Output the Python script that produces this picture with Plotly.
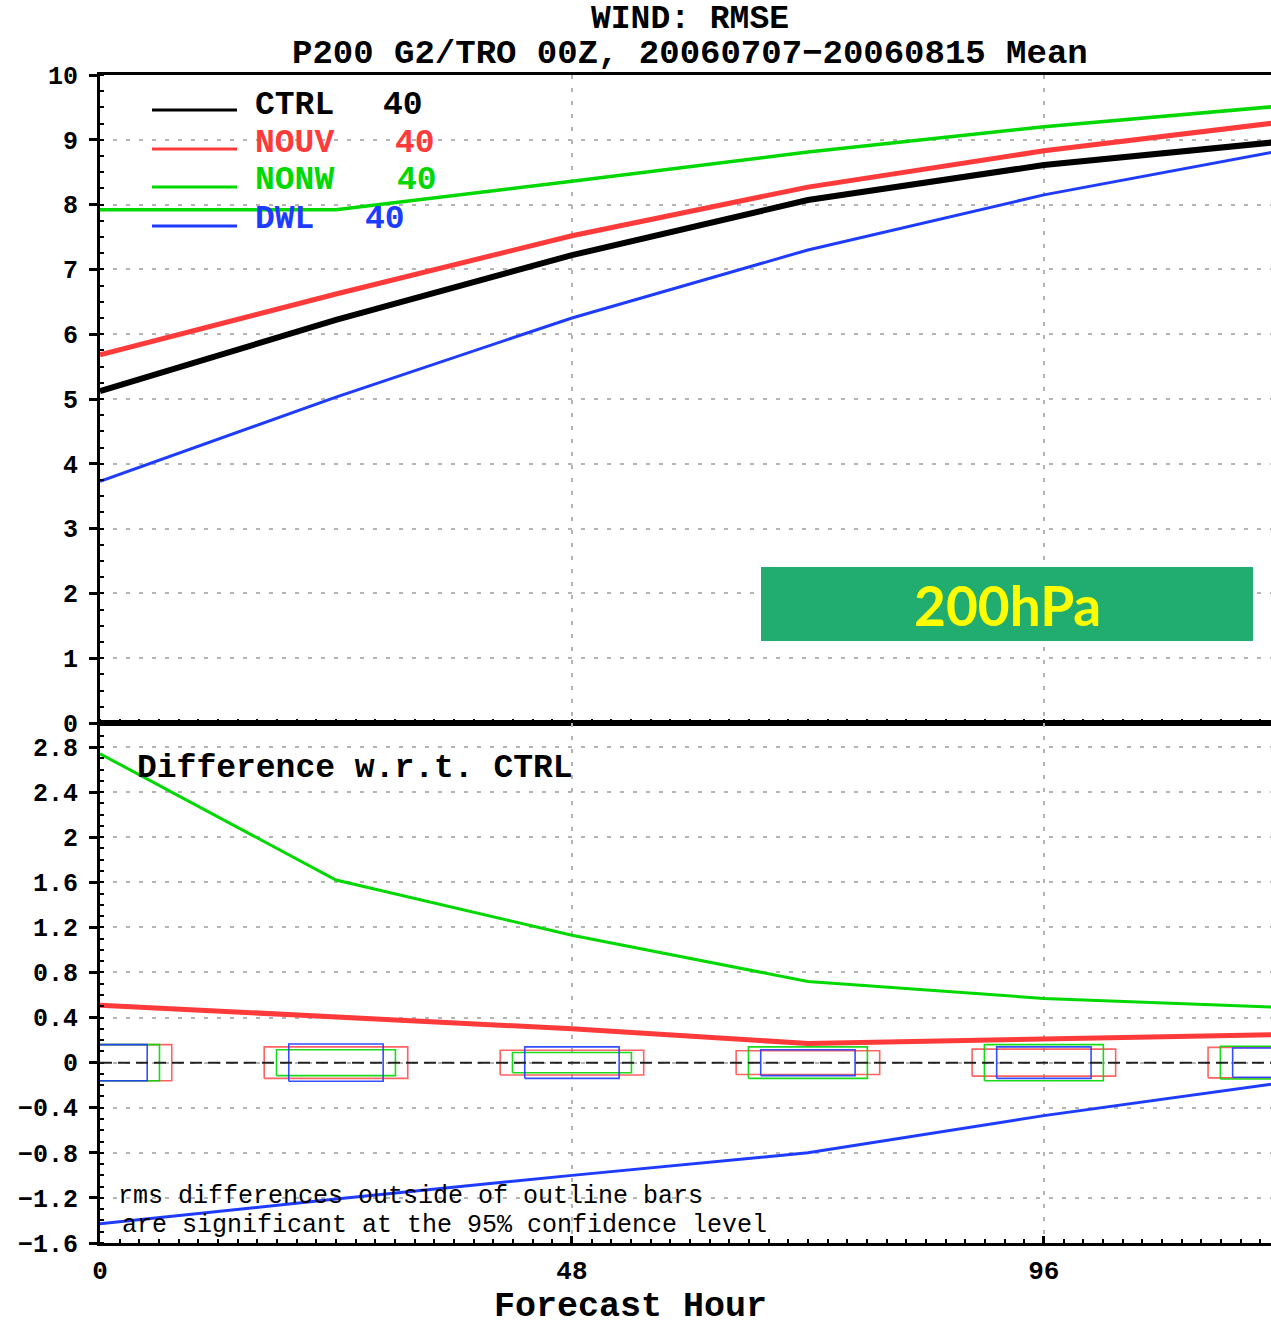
import plotly.graph_objects as go

# ---------------- data ----------------
hours = [0, 24, 48, 72, 96, 120]
series_names = ["CTRL", "NOUV", "NONW", "DWL"]
counts = [40, 40, 40, 40]

rmse_ctrl = [5.12, 6.22, 7.22, 8.07, 8.61, 8.97]
rmse_nouv = [5.68, 6.62, 7.52, 8.27, 8.83, 9.27]
rmse_nonw = [7.92, 7.92, 8.36, 8.81, 9.20, 9.52]
rmse_dwl = [3.73, 5.03, 6.25, 7.30, 8.15, 8.83]

diff_nouv = [0.51, 0.41, 0.30, 0.17, 0.21, 0.25]
diff_nonw = [2.74, 1.62, 1.13, 0.72, 0.57, 0.49]
diff_dwl = [-1.43, -1.21, -1.00, -0.80, -0.47, -0.18]

# confidence half-heights of outline bars
conf_nouv = [0.16, 0.14, 0.11, 0.105, 0.12, 0.135]
conf_nonw = [0.16, 0.115, 0.09, 0.14, 0.16, 0.145]
conf_dwl = [0.16, 0.165, 0.14, 0.115, 0.14, 0.13]

top_ticks = [0, 1, 2, 3, 4, 5, 6, 7, 8, 9, 10]
bot_ticks = [-1.6, -1.2, -0.8, -0.4, 0, 0.4, 0.8, 1.2, 1.6, 2.0, 2.4, 2.8]
bot_labels = ["\u22121.6", "\u22121.2", "\u22120.8", "\u22120.4", "0", "0.4", "0.8", "1.2", "1.6", "2", "2.4", "2.8"]
x_ticks = [0, 48, 96]

# ---------------- style ----------------
C_BLACK = "#000000"
C_RED = "#ff3a3a"
C_GREEN = "#00d800"
C_BLUE = "#1e3cff"
colors = [C_BLACK, C_RED, C_GREEN, C_BLUE]
widths_top = [6, 5, 3.5, 3]
box_halfwidth = {"NOUV": 7.3, "NONW": 6.05, "DWL": 4.8}
box_colors = {"NOUV": "rgba(255,70,70,0.85)", "NONW": "rgba(0,215,0,0.9)", "DWL": "rgba(30,60,255,0.9)"}

FONT = "Liberation Mono"
W, H = 1271, 1329
ML, MR, MT, MB = 100, 0, 75, 86
split_px = 723


def px(x):
    return (x - ML) / (W - ML - MR)


def py(y):
    return (H - MB - y) / (H - MT - MB)


split = py(split_px)

fig = go.Figure()

# ---------------- top panel ----------------
top_series = [rmse_ctrl, rmse_nouv, rmse_nonw, rmse_dwl]
for name, vals, col, lw in zip(series_names, top_series, colors, widths_top):
    fig.add_trace(go.Scatter(x=hours, y=vals, mode="lines", name=name,
                             line=dict(color=col, width=lw),
                             xaxis="x", yaxis="y", showlegend=False))

# ---------------- bottom panel ----------------
diffs = {"NOUV": diff_nouv, "NONW": diff_nonw, "DWL": diff_dwl}
confs = {"NOUV": conf_nouv, "NONW": conf_nonw, "DWL": conf_dwl}
diff_colors = {"NOUV": C_RED, "NONW": C_GREEN, "DWL": C_BLUE}
diff_widths = {"NOUV": 5, "NONW": 3, "DWL": 3}

for name in ["NOUV", "NONW", "DWL"]:
    bx, by = [], []
    hw = box_halfwidth[name]
    for h, c in zip(hours, confs[name]):
        bx += [h - hw, h + hw, h + hw, h - hw, h - hw, None]
        by += [-c, -c, c, c, -c, None]
    fig.add_trace(go.Scatter(x=bx, y=by, mode="lines",
                             line=dict(color=box_colors[name], width=1.6),
                             xaxis="x2", yaxis="y2", showlegend=False,
                             hoverinfo="skip"))

for name in ["NONW", "NOUV", "DWL"]:
    fig.add_trace(go.Scatter(x=hours, y=diffs[name], mode="lines",
                             line=dict(color=diff_colors[name], width=diff_widths[name]),
                             xaxis="x2", yaxis="y2", showlegend=False))

# zero reference line
fig.add_shape(type="line", xref="x2 domain", yref="y2", x0=0, x1=1, y0=0, y1=0,
              line=dict(color="#222222", width=2, dash="12px,6px"), layer="above")

grid_common = dict(gridcolor="#b4b4b4", gridwidth=2, griddash="4px,9px")
tickfont = dict(family=FONT, size=25, color="black", weight="bold")

fig.update_layout(
    width=W, height=H,
    margin=dict(l=ML, r=MR, t=MT, b=MB, pad=0),
    paper_bgcolor="white", plot_bgcolor="white",
    showlegend=False,
    xaxis=dict(domain=[0, 1], anchor="y", range=[0, 119.1], tickvals=x_ticks,
               showticklabels=False, showgrid=True, **grid_common,
               showline=True, linecolor="black", linewidth=3, mirror=True,
               ticks="", zeroline=False,
               minor=dict(ticks="inside", dtick=2, ticklen=4, tickwidth=2, tickcolor="black", showgrid=False)),
    yaxis=dict(domain=[split, 1], anchor="x", range=[0, 10], tickvals=top_ticks,
               showgrid=True, **grid_common, zeroline=False,
               showline=True, linecolor="black", linewidth=3,
               ticks="outside", ticklen=8, tickwidth=3, tickcolor="black",
               tickfont=tickfont, ticklabelstandoff=6,
               minor=dict(ticks="inside", dtick=0.25, ticklen=4, tickwidth=2, tickcolor="black", showgrid=False)),
    xaxis2=dict(domain=[0, 1], anchor="y2", range=[0, 119.1], tickvals=x_ticks,
                ticktext=[str(v) for v in x_ticks], tickfont=dict(family=FONT, size=26, color="black", weight="bold"),
                showgrid=True, **grid_common, zeroline=False,
                showline=True, linecolor="black", linewidth=3, mirror=True,
                ticks="inside", ticklen=7, tickwidth=3, tickcolor="black",
                ticklabelstandoff=2,
                minor=dict(ticks="inside", dtick=2, ticklen=4, tickwidth=2, tickcolor="black", showgrid=False)),
    yaxis2=dict(domain=[0, split], anchor="x2", range=[-1.6, 3.013], tickvals=bot_ticks,
                ticktext=bot_labels, tickfont=tickfont, ticklabelstandoff=6,
                showgrid=True, **grid_common, zeroline=False,
                showline=True, linecolor="black", linewidth=3,
                ticks="outside", ticklen=8, tickwidth=3, tickcolor="black",
                minor=dict(ticks="inside", dtick=0.1, ticklen=4, tickwidth=2, tickcolor="black", showgrid=False)),
)

ann = []
# title
ann.append(dict(text="WIND: RMSE", x=px(690), y=py(19), xref="paper", yref="paper",
                showarrow=False, xanchor="center", yanchor="middle",
                font=dict(family=FONT, size=33, color="black", weight="bold")))
ann.append(dict(text="P200 G2/TRO 00Z, 20060707\u221220060815 Mean", x=px(690), y=py(54),
                xref="paper", yref="paper", showarrow=False, xanchor="center", yanchor="middle",
                font=dict(family=FONT, size=34, color="black", weight="bold")))

# legend (drawn manually as in the original)
leg_text_y = [105, 143, 181, 219]
leg_line_y = [110, 149, 187, 226]
leg_num_x = [381, 393, 395, 363]
for name, cnt, col, ty, ly, nx in zip(series_names, counts, colors, leg_text_y, leg_line_y, leg_num_x):
    fig.add_shape(type="line", xref="paper", yref="paper", x0=px(152), x1=px(237),
                  y0=py(ly), y1=py(ly), line=dict(color=col, width=3))
    ann.append(dict(text=name, x=px(253), y=py(ty), xref="paper", yref="paper", showarrow=False,
                    xanchor="left", yanchor="middle",
                    font=dict(family=FONT, size=33, color=col, weight="bold")))
    ann.append(dict(text=str(cnt), x=px(nx), y=py(ty), xref="paper", yref="paper", showarrow=False,
                    xanchor="left", yanchor="middle",
                    font=dict(family=FONT, size=33, color=col, weight="bold")))

ann.append(dict(text="Difference w.r.t. CTRL", x=px(135), y=py(768), xref="paper", yref="paper",
                showarrow=False, xanchor="left", yanchor="middle",
                font=dict(family=FONT, size=33, color="black", weight="bold")))
ann.append(dict(text="rms differences outside of outline bars", x=px(116), y=py(1196),
                xref="paper", yref="paper", showarrow=False, xanchor="left", yanchor="middle",
                font=dict(family=FONT, size=25, color="black")))
ann.append(dict(text="are significant at the 95% confidence level", x=px(120), y=py(1225),
                xref="paper", yref="paper", showarrow=False, xanchor="left", yanchor="middle",
                font=dict(family=FONT, size=25, color="black")))
ann.append(dict(text="Forecast Hour", x=px(630), y=py(1307), xref="paper", yref="paper",
                showarrow=False, xanchor="center", yanchor="middle",
                font=dict(family=FONT, size=35, color="black", weight="bold")))

# level badge
fig.add_shape(type="rect", xref="paper", yref="paper", x0=px(761), x1=px(1253),
              y0=py(641), y1=py(567), fillcolor="#22ad70", line=dict(width=0), layer="above")
ann.append(dict(text="200hPa", x=px(1007), y=py(605), xref="paper", yref="paper",
                showarrow=False, xanchor="center", yanchor="middle",
                font=dict(family="Lato", size=55, color="#ffff00", weight="bold")))

fig.update_layout(annotations=ann)
fig.write_html("out.html")
